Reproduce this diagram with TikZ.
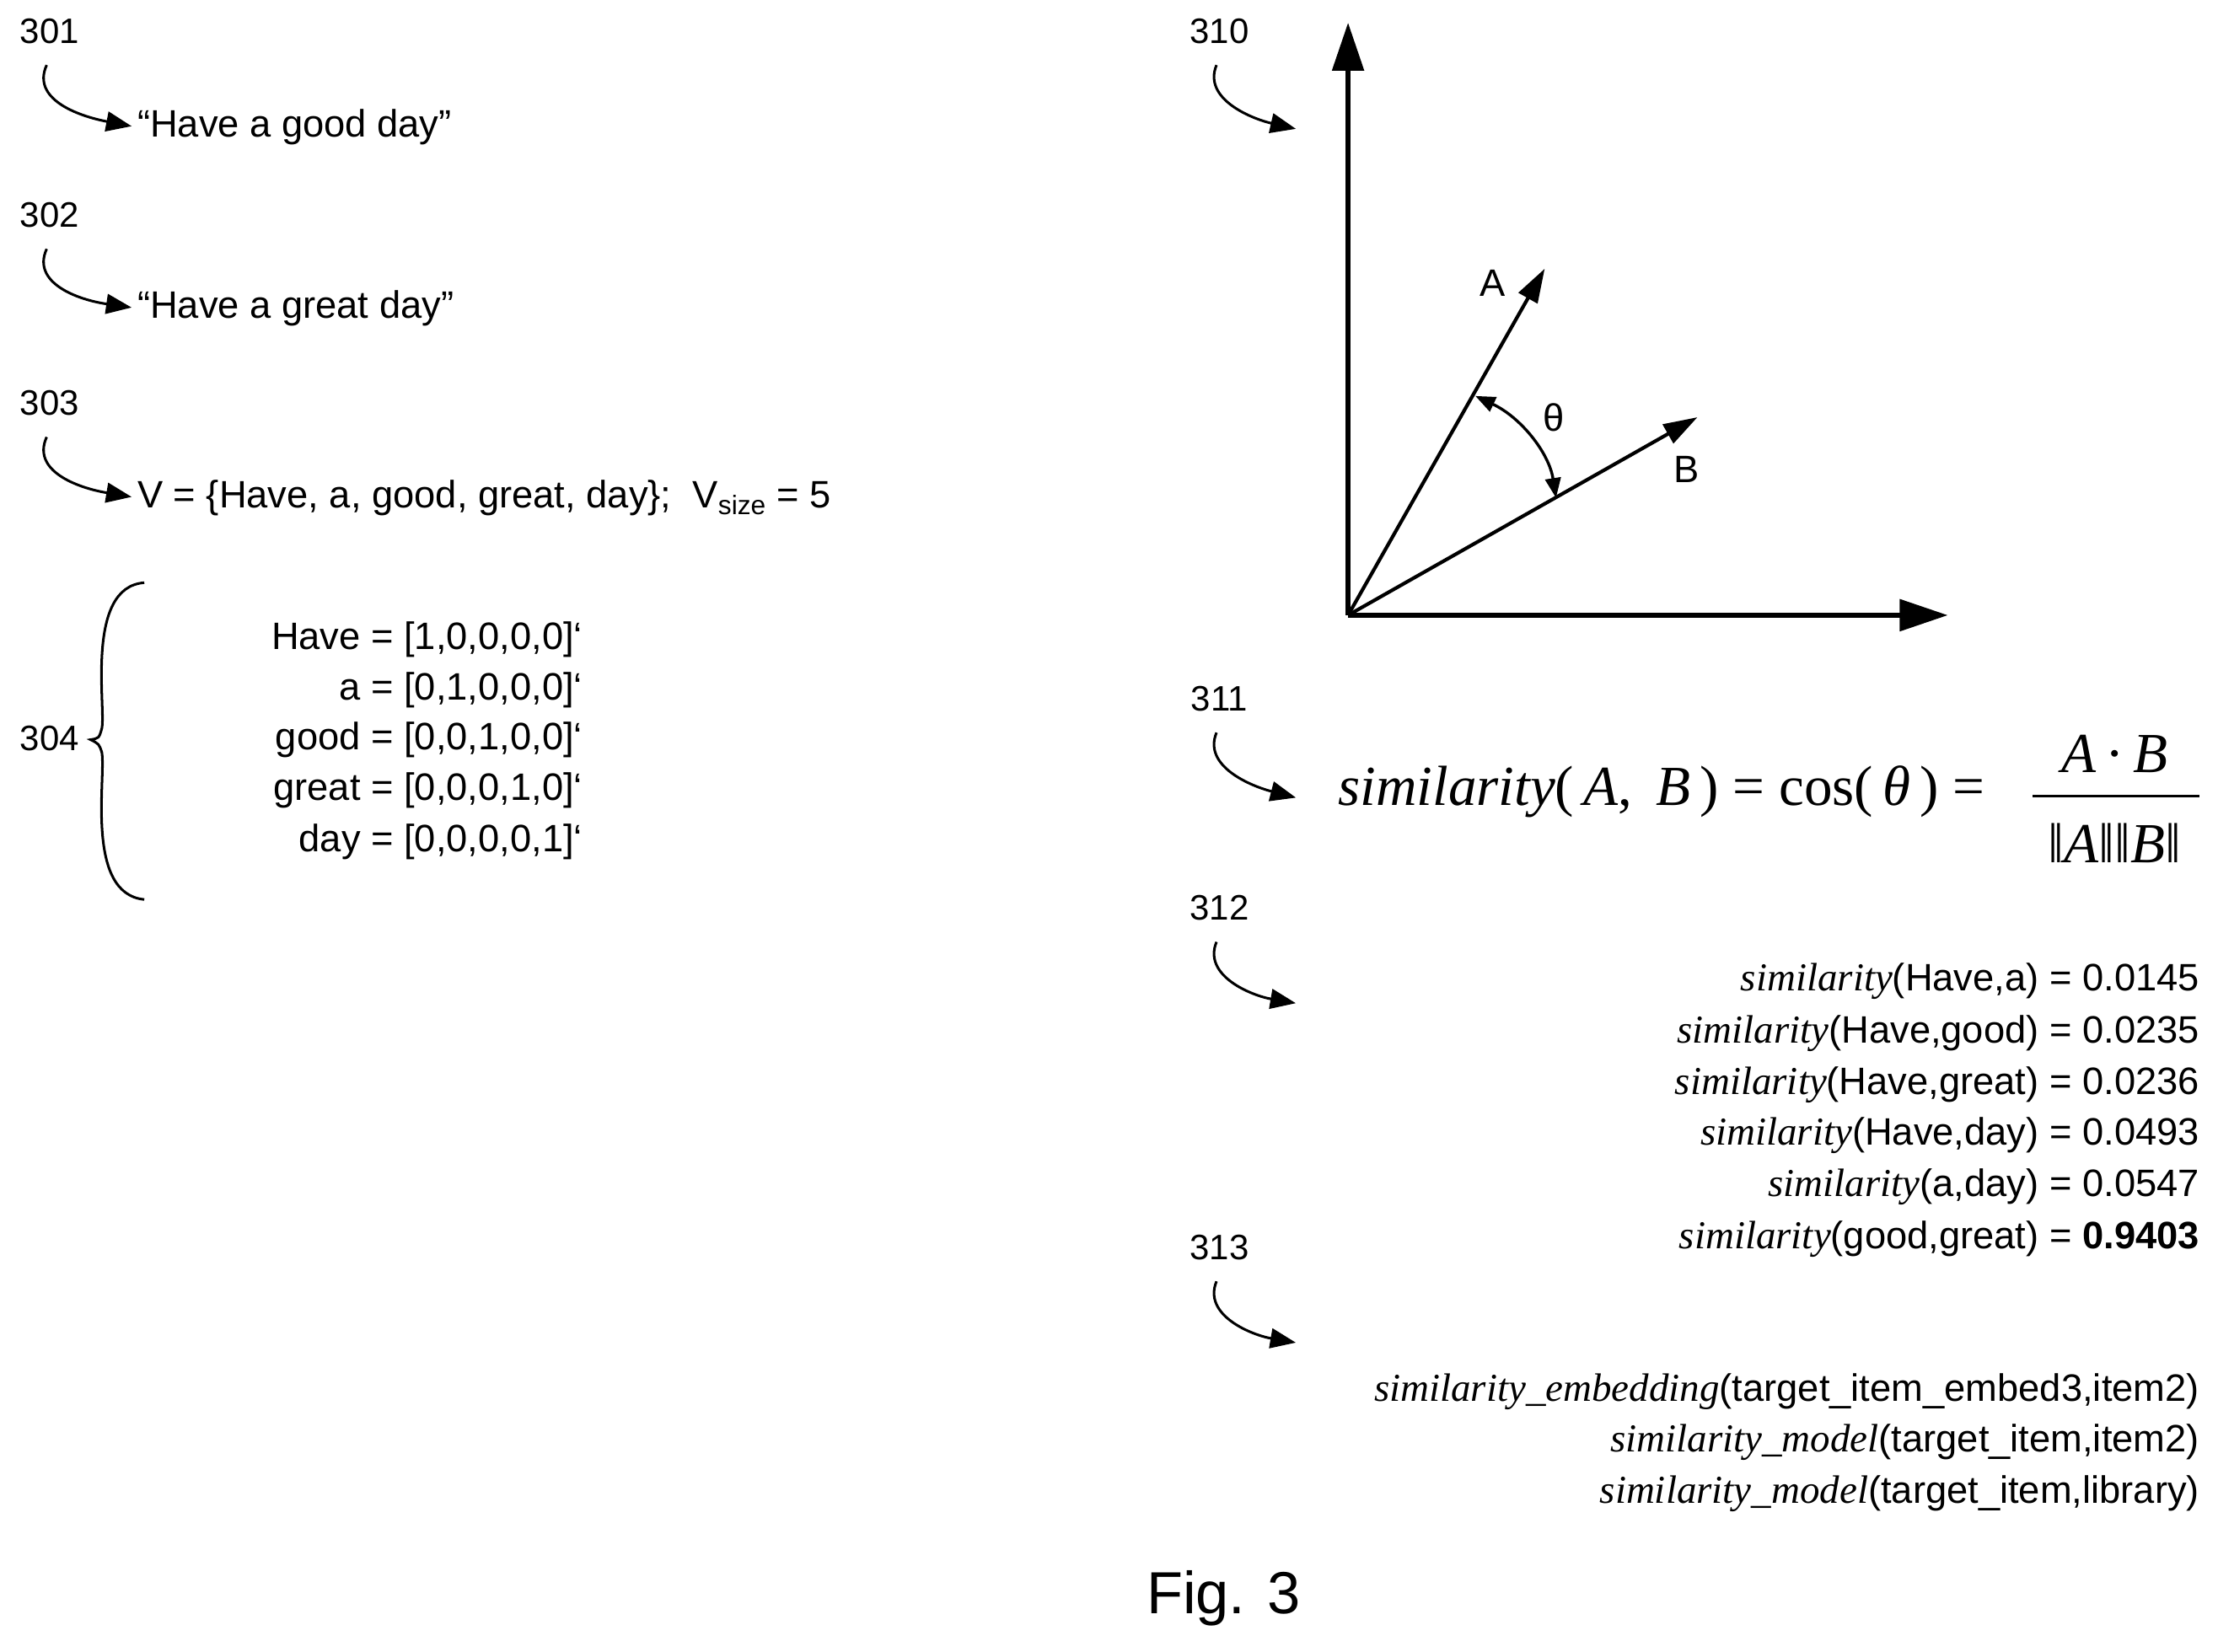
\documentclass[tikz,border=0pt]{standalone}
\usepackage{fontspec}
\setmainfont{Liberation Sans}
\newfontfamily\serf{Liberation Serif}
\usetikzlibrary{arrows.meta}
\newcommand{\sm}[1]{{\serf\itshape\fontsize{28}{30}\selectfont #1}}
\begin{document}
\begin{tikzpicture}[x=1pt,y=-1pt,
  lab/.style={font=\fontsize{25}{28}\selectfont,inner sep=0},
  txt/.style={font=\fontsize{27}{30}\selectfont,inner sep=0,anchor=west},
  rt/.style={font=\fontsize{27}{30}\selectfont,inner sep=0,anchor=east},
  carrow/.style={line width=1.8pt,-{Triangle[length=18pt,width=14pt]},shorten >=4pt},
  axis/.style={line width=3.5pt,-{Triangle[length=34pt,width=22pt]}},
  vec/.style={line width=2.5pt,-{Triangle[length=24pt,width=15pt]}}]
\useasboundingbox (0,0) rectangle (1568,1168);
% left labels
\node[lab] (l301) at (35,22) {301};
\node[txt] (t301) at (97,90) {“Have a good day”};
\draw[carrow] (33,46) .. controls (22,70) and (55,82) .. (t301.west);
\node[lab] (l302) at (35,152) {302};
\node[txt] (t302) at (97,218) {“Have a great day”};
\draw[carrow] (33,176) .. controls (22,200) and (55,212) .. (t302.west);
\node[lab] (l303) at (35,285) {303};
\node[txt] (t303) at (97,352) {V = \{Have, a, good, great, day\};\ \ V\textsubscript{size} = 5};
\draw[carrow] (33,309) .. controls (22,333) and (55,345) .. (t303.west);
\node[lab] (l304) at (35,522) {304};
\draw[line width=1.8pt] (102,412) .. controls (60,415) and (75,500) .. (72,515)
  .. controls (70,522) .. (64,523) .. controls (70,526) .. (72,532)
  .. controls (75,550) and (60,632) .. (102,636);
\node[rt] (v1) at (412,452) {Have = [1,0,0,0,0]`};
\node[rt] (v2) at (412,488) {a = [0,1,0,0,0]`};
\node[rt] (v3) at (412,523) {good = [0,0,1,0,0]`};
\node[rt] (v4) at (412,559) {great = [0,0,0,1,0]`};
\node[rt] (v5) at (412,595) {day = [0,0,0,0,1]`};
% axes
\coordinate (O) at (953,435);
\coordinate (Yt) at (953,16);
\coordinate (Xt) at (1377,435);
\coordinate (At) at (1092,190);
\coordinate (Bt) at (1200,295);
\draw[axis] (O) -- (Yt);
\draw[axis] (O) -- (Xt);
\draw[vec] (O) -- (At);
\draw[vec] (O) -- (Bt);
\node[txt] (A) at (1046,200) {A};
\node[txt] (B) at (1183,332) {B};
\node[txt] (th) at (1091,295) {θ};
\draw[line width=2pt,{Triangle[length=14pt,width=11pt]}-{Triangle[length=14pt,width=11pt]}] (1043,280) .. controls (1075,295) and (1095,320) .. (1100,352);
\node[lab] (l310) at (862,22) {310};
\draw[carrow] (860,46) .. controls (850,70) and (885,84) .. (920,92);
% formula
\node[lab] (l311) at (862,494) {311};
\node[inner sep=0,anchor=west,font=\fontsize{40}{44}\selectfont\serf] (f) at (946,560)
  {\itshape similarity\upshape(\,\itshape A\upshape,\, \itshape B\upshape\,) = cos(\,\itshape θ\upshape\,) =};
\node[inner sep=0,font=\fontsize{40}{44}\selectfont\serf] (fn) at (1495,533) {\itshape A\upshape\,·\,\itshape B};
\node[inner sep=0,font=\fontsize{40}{44}\selectfont\serf] (fd) at (1495,596) {‖\itshape A\upshape‖‖\itshape B\upshape‖};
\draw[line width=1.5pt] (1437,563) -- (1555,563);
\draw[carrow] (860,518) .. controls (850,542) and (885,556) .. (920,565);
% 312
\node[lab] (l312) at (862,642) {312};
\draw[carrow] (860,666) .. controls (850,690) and (885,704) .. (920,710);
\node[rt] (s1) at (1555,694) {\sm{similarity}(Have,a) = 0.0145};
\node[rt] (s2) at (1555,731) {\sm{similarity}(Have,good) = 0.0235};
\node[rt] (s3) at (1555,767) {\sm{similarity}(Have,great) = 0.0236};
\node[rt] (s4) at (1555,803) {\sm{similarity}(Have,day) = 0.0493};
\node[rt] (s5) at (1555,839) {\sm{similarity}(a,day) = 0.0547};
\node[rt] (s6) at (1555,876) {\sm{similarity}(good,great) = \textbf{0.9403}};
% 313
\node[lab] (l313) at (862,882) {313};
\draw[carrow] (860,906) .. controls (850,930) and (885,944) .. (920,950);
\node[rt] (e1) at (1555,984) {\sm{similarity\_embedding}(target\_item\_embed3,item2)};
\node[rt] (e2) at (1555,1020) {\sm{similarity\_model}(target\_item,item2)};
\node[rt] (e3) at (1555,1056) {\sm{similarity\_model}(target\_item,library)};
\node[inner sep=0,font=\fontsize{42}{46}\selectfont] (fig) at (865,1130) {Fig. 3};
\end{tikzpicture}
\end{document}
